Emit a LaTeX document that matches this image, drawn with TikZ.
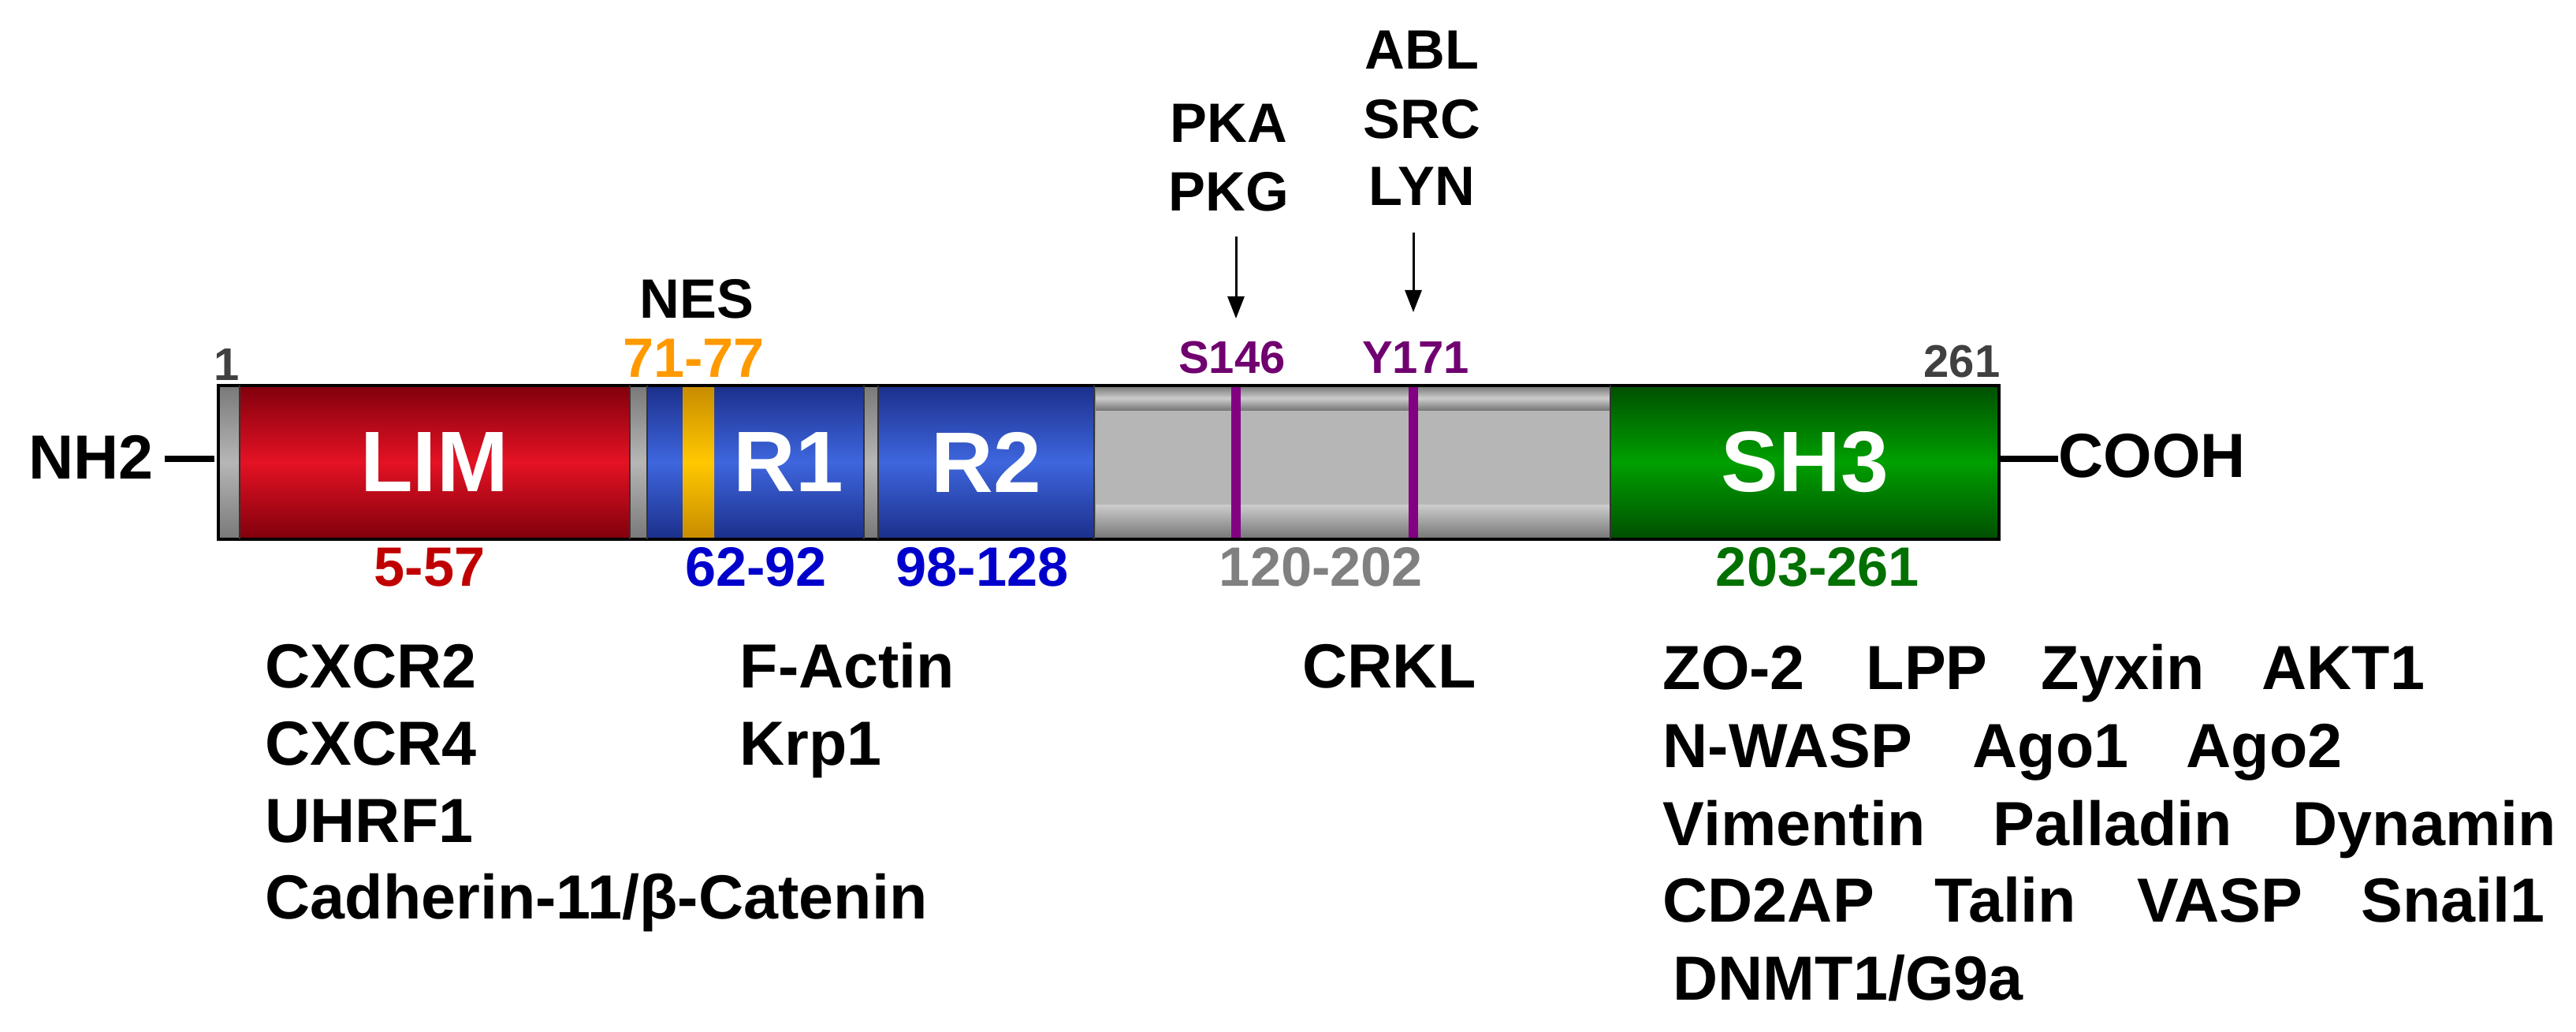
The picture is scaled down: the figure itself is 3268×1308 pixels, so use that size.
\documentclass[tikz,border=0pt]{standalone}
\usepackage{fontspec}
\setmainfont{Liberation Sans}
\usetikzlibrary{arrows.meta}
\definecolor{limR}{RGB}{228,18,36}\definecolor{limD}{RGB}{130,0,12}
\definecolor{bluR}{RGB}{62,102,222}\definecolor{bluD}{RGB}{28,48,140}
\definecolor{grnR}{RGB}{0,160,0}\definecolor{grnD}{RGB}{0,80,0}
\definecolor{gryR}{RGB}{182,182,182}\definecolor{gryD}{RGB}{120,120,120}
\definecolor{yelR}{RGB}{255,200,0}\definecolor{yelD}{RGB}{200,140,0}
\definecolor{purR}{RGB}{130,0,130}
\definecolor{lRed}{RGB}{192,0,0}\definecolor{lBlue}{RGB}{0,0,204}
\definecolor{lGray}{RGB}{128,128,128}\definecolor{lGreen}{RGB}{0,112,0}
\definecolor{lOrange}{RGB}{255,153,0}\definecolor{lPurple}{RGB}{112,0,112}
\definecolor{lDark}{RGB}{64,64,64}
\tikzset{
 seg/.style={top color=#1D,bottom color=#1D,middle color=#1R},
 txt/.style={inner sep=0pt,font=\bfseries\fontsize{22.5}{24}\selectfont,anchor=base west},
 kin/.style={inner sep=0pt,font=\bfseries\fontsize{20}{24}\selectfont,anchor=base},
 rng/.style={inner sep=0pt,font=\bfseries\fontsize{20}{24}\selectfont,anchor=base},
 site/.style={inner sep=0pt,font=\bfseries\fontsize{16.5}{20}\selectfont,anchor=base,text=lPurple},
 dom/.style={inner sep=0pt,font=\bfseries\fontsize{31}{34}\selectfont,text=white},
 arr/.style={line width=0.85pt,-{Triangle[length=8pt,width=6pt]}},
}
\begin{document}
\begin{tikzpicture}[x=0.01cm,y=-0.01cm]
\useasboundingbox (0,0) rectangle (3268,1308);
% bar
\fill[seg=gry] (277,487) rectangle (2536,685);
\fill[seg=lim] (304,490) rectangle (799,682);
\fill[seg=blu] (821,490) rectangle (1096,682);
\fill[seg=yel] (866,490) rectangle (906,682);
\fill[seg=blu] (1114,490) rectangle (1388,682);
\fill[gryR] (1390,490) rectangle (2042,682);
\fill[top color=gryD,bottom color=gryD,middle color=gryR!70!white] (1390,490) rectangle (2042,520);
\fill[top color=gryR!70!white,bottom color=gryD] (1390,640) rectangle (2042,682);
\fill[purR] (1562,490) rectangle (1574,682);
\fill[purR] (1787,490) rectangle (1799,682);
\fill[seg=grn] (2043,490) rectangle (2536,682);
\draw[line width=1pt] (277,489) rectangle (2536,684);
\foreach \x in {304,799,821,1096,1114,1388,2043} \draw[line width=0.6pt,black!80] (\x,489) -- (\x,684);
\node[dom] (lim) at (551,586) {LIM};
\node[dom] (r1) at (1000,586) {R1};
\node[dom] (r2) at (1251,586) {R2};
\node[dom] (sh3) at (2290,586) {SH3};
% termini
\node[txt] (nh2) at (36,607) {NH2};
\node[txt] (cooh) at (2611,605) {COOH};
\coordinate (nl) at (272,582); \coordinate (cl) at (2536,582);
\draw[line width=2.3pt] (nh2.east |- nl) ++(13,0) -- (nl);
\draw[line width=2.3pt] (cl) -- (cooh.west |- cl) ++(-8,0);
% top labels
\node[site,text=lDark] (n1) at (288,482) {1};
\node[site,text=lDark,anchor=base east] (n261) at (2538,478) {261};
\node[kin] (nes) at (884,403) {NES};
\node[rng,text=lOrange] (nesr) at (880,478) {71-77};
\node[site] (s146) at (1563,473) {S146};
\node[site] (y171) at (1796,473) {Y171};
\node[kin] (pka) at (1559,180) {PKA};
\node[kin] (pkg) at (1559,267) {PKG};
\node[kin] (abl) at (1804,87) {ABL};
\node[kin] (src) at (1804,175) {SRC};
\node[kin] (lyn) at (1804,260) {LYN};
\coordinate (a1s) at (1568,300); \coordinate (a1e) at (1568,404);
\coordinate (a2s) at (1793,295); \coordinate (a2e) at (1793,396);
\draw[arr] (a1s) -- (a1e);
\draw[arr] (a2s) -- (a2e);
% ranges
\node[rng,text=lRed] (r557) at (545,743) {5-57};
\node[rng,text=lBlue] (r6292) at (959,743) {62-92};
\node[rng,text=lBlue] (r98) at (1246,743) {98-128};
\node[rng,text=lGray] (r120) at (1676,743) {120-202};
\node[rng,text=lGreen] (r203) at (2306,743) {203-261};
% partners
\node[txt] (p1) at (336,872) {CXCR2};
\node[txt] (p2) at (336,970) {CXCR4};
\node[txt] (p3) at (336,1068) {UHRF1};
\node[txt] (p4) at (336,1165) {Cadherin-11/β-Catenin};
\node[txt] (p5) at (938,872) {F-Actin};
\node[txt] (p6) at (938,970) {Krp1};
\node[txt] (p7) at (1652,872) {CRKL};
\node[txt] (q1) at (2109,874) {ZO-2};
\node[txt] (q2) at (2367,874) {LPP};
\node[txt] (q3) at (2589,874) {Zyxin};
\node[txt] (q4) at (2869,874) {AKT1};
\node[txt] (q5) at (2109,973) {N-WASP};
\node[txt] (q6) at (2502,973) {Ago1};
\node[txt] (q7) at (2773,973) {Ago2};
\node[txt] (q8) at (2109,1072) {Vimentin};
\node[txt] (q9) at (2528,1072) {Palladin};
\node[txt] (q10) at (2908,1072) {Dynamin};
\node[txt] (q11) at (2109,1169) {CD2AP};
\node[txt] (q12) at (2454,1169) {Talin};
\node[txt] (q13) at (2711,1169) {VASP};
\node[txt] (q14) at (2995,1169) {Snail1};
\node[txt] (q15) at (2122,1268) {DNMT1/G9a};
\end{tikzpicture}
\end{document}
